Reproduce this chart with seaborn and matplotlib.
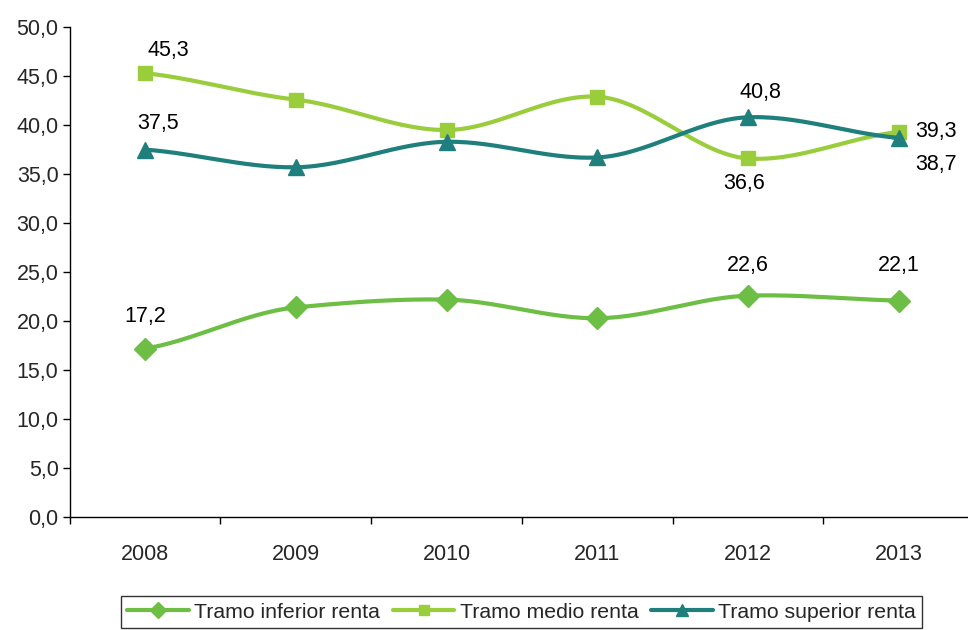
import matplotlib
matplotlib.use('Agg')
import matplotlib.pyplot as plt
from matplotlib.ticker import FuncFormatter, FixedLocator
import seaborn as sns
import numpy as np
import pandas as pd

# ── data ───────────────────────────────────────────────
years = ['2008', '2009', '2010', '2011', '2012', '2013']
inferior = [17.2, 21.4, 22.2, 20.3, 22.6, 22.1]
medio = [45.3, 42.6, 39.5, 42.9, 36.6, 39.3]
superior = [37.5, 35.7, 38.3, 36.7, 40.8, 38.7]
series_names = ['Tramo inferior renta', 'Tramo medio renta', 'Tramo superior renta']
colors = ['#6dbe45', '#9acd3c', '#1f7f7c']
markers = ['D', 's', '^']
marker_sizes = [11, 10, 11]
# which points carry a value label, and where (dx, dy in points)
label_idx = [0, 4, 5]
label_offsets = {
    'Tramo inferior renta': [(0, 23), (0, 22), (0, 25)],
    'Tramo medio renta': [(17, 16), (-3, -18), (27, 0)],
    'Tramo superior renta': [(9, 19), (9, 18), (27, -19)],
}

sns.set_theme(style='white')
plt.rcParams['font.family'] = ['Liberation Sans', 'DejaVu Sans']


def smooth(y, n=30):
    # Catmull-Rom style smoothing (similar to spreadsheet "smoothed line")
    y = np.asarray(y, float)
    x = np.arange(len(y), dtype=float)
    px, py = [], []
    for i in range(len(y) - 1):
        x0, x1 = x[i], x[i + 1]
        y0, y1 = y[i], y[i + 1]
        ym = y[i - 1] if i > 0 else y0
        yp = y[i + 2] if i + 2 < len(y) else y1
        m0 = (y1 - ym) / (2 if i > 0 else 1)
        m1 = (yp - y0) / (2 if i + 2 < len(y) else 1)
        t = np.linspace(0, 1, n, endpoint=False)
        h00 = 2 * t**3 - 3 * t**2 + 1
        h10 = t**3 - 2 * t**2 + t
        h01 = -2 * t**3 + 3 * t**2
        h11 = t**3 - t**2
        px.extend(x0 + t * (x1 - x0))
        py.extend(h00 * y0 + h10 * m0 * 0.6 + h01 * y1 + h11 * m1 * 0.6)
    px.append(x[-1])
    py.append(y[-1])
    return np.array(px), np.array(py)


fig, ax = plt.subplots(figsize=(9.68, 6.30), dpi=100)
fig.subplots_adjust(left=0.072, right=1.0, top=0.957, bottom=0.179)

all_vals = [inferior, medio, superior]
for name, vals, c, m, ms in zip(series_names, all_vals, colors, markers, marker_sizes):
    sx, sy = smooth(vals)
    df = pd.DataFrame({'x': sx, 'y': sy})
    sns.lineplot(data=df, x='x', y='y', ax=ax, color=c, lw=3, legend=False)
    ax.plot(range(len(vals)), vals, ls='none', marker=m, ms=ms, color=c,
            markeredgecolor=c)
    for k, idx in enumerate(label_idx):
        dx, dy = label_offsets[name][k]
        ax.annotate(f'{vals[idx]:.1f}'.replace('.', ','), (idx, vals[idx]),
                    xytext=(dx, dy), textcoords='offset points',
                    ha='center', va='center', fontsize=15.5, color='black')

# legend handles
handles = [plt.Line2D([], [], color=c, lw=3, marker=m, ms=ms * 0.75)
           for c, m, ms in zip(colors, markers, marker_sizes)]
leg = ax.legend(handles, series_names, loc='upper center',
                bbox_to_anchor=(0.503, -0.14), ncol=3, frameon=True,
                fontsize=15.3, handlelength=2.9, handletextpad=0.25,
                columnspacing=0.6, borderpad=0.3, fancybox=False)
leg.get_frame().set_edgecolor('black')
leg.get_frame().set_linewidth(1)

ax.set_ylim(0, 50)
ax.set_xlim(-0.5, 5.46)
ax.set_yticks(np.arange(0, 50.1, 5))
ax.yaxis.set_major_formatter(FuncFormatter(lambda v, p: f'{v:.1f}'.replace('.', ',')))
ax.set_xticks(range(len(years)))
ax.set_xticklabels(years)
ax.xaxis.set_minor_locator(FixedLocator(np.arange(-0.5, 5.0, 1)))
ax.tick_params(axis='x', which='major', length=0, labelsize=15.5, pad=19)
ax.tick_params(axis='x', which='minor', length=5, width=1, color='black',
               direction='out', bottom=True)
ax.tick_params(axis='y', length=5, width=1, color='black', direction='out',
               left=True, labelsize=15.5, pad=3)
ax.set_xlabel('')
ax.set_ylabel('')
for s in ['top', 'right']:
    ax.spines[s].set_visible(False)
for s in ['left', 'bottom']:
    ax.spines[s].set_color('black')
    ax.spines[s].set_linewidth(1)
ax.grid(False)

plt.savefig('out.png', dpi=100)
